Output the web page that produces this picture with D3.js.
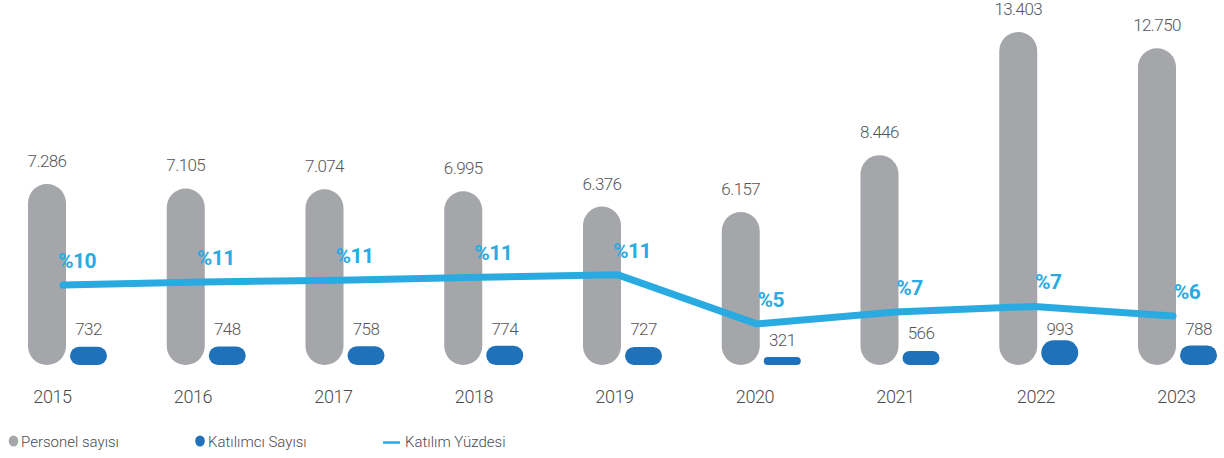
<!DOCTYPE html>
<html lang="tr">
<head>
<meta charset="utf-8">
<script src="https://cdn.jsdelivr.net/npm/d3@7"></script>
<style>
  html, body { margin: 0; padding: 0; background: #ffffff; }
  svg { display: block; font-family: Roboto, "Open Sans", sans-serif; }
</style>
</head>
<body>
<svg id="chart" width="1224" height="458"></svg>
<script>
// Yıllara göre personel sayısı, katılımcı sayısı ve katılım yüzdesi
const years = ["2015", "2016", "2017", "2018", "2019", "2020", "2021", "2022", "2023"];
const personel = [7286, 7105, 7074, 6995, 6376, 6157, 8446, 13403, 12750];
const katilimci = [732, 748, 758, 774, 727, 321, 566, 993, 788];
const katilimYuzdesi = [10.1, 10.5, 10.7, 11.1, 11.4, 5.2, 6.7, 7.4, 6.2];
const legendLabels = ["Personel sayısı", "Katılımcı Sayısı", "Katılım Yüzdesi"];

const colors = { personel: "#a5a6a9", katilimci: "#1f72ba", line: "#29abe2", text: "#555659" };
const thouFmt = d3.formatLocale({ decimal: ",", thousands: ".", grouping: [3] }).format(",d");

const svg = d3.select("#chart");
const baseY = 365, topY = 32;

// Group centres (bars) and axis label positions
const xc = d3.scalePoint().domain(years).range([47, 1157]);
const xAxisScale = d3.scalePoint().domain(years).range([52, 1176]);

const y = d3.scaleLinear().domain([0, d3.max(personel)]).range([baseY, topY]);
const yPct = d3.scaleLinear().domain([0, 42.1]).range([baseY, topY]);

const grayW = 38, blueW = 37;
const data = years.map((yr, i) => ({ yr, p: personel[i], k: katilimci[i], pct: katilimYuzdesi[i] }));

// Personel bars (pill shaped)
svg.append("g").selectAll("rect").data(data).join("rect")
  .attr("x", d => xc(d.yr) - grayW / 2)
  .attr("y", d => y(d.p))
  .attr("width", grayW)
  .attr("height", d => baseY - y(d.p))
  .attr("rx", d => Math.min(grayW / 2, (baseY - y(d.p)) / 2))
  .attr("fill", colors.personel);

// Katılımcı bars
svg.append("g").selectAll("rect").data(data).join("rect")
  .attr("x", d => xc(d.yr) + 23)
  .attr("y", d => y(d.k))
  .attr("width", blueW)
  .attr("height", d => baseY - y(d.k))
  .attr("rx", d => Math.min(blueW / 2, (baseY - y(d.k)) / 2))
  .attr("fill", colors.katilimci);

// Value labels
svg.append("g").selectAll("text").data(data).join("text")
  .attr("x", d => xc(d.yr))
  .attr("y", d => y(d.p) - 17)
  .attr("text-anchor", "middle")
  .attr("font-size", 17).attr("font-weight", 300)
  .attr("letter-spacing", "-0.6px")
  .attr("fill", colors.text)
  .text(d => thouFmt(d.p));

svg.append("g").selectAll("text").data(data).join("text")
  .attr("x", d => xc(d.yr) + 23 + blueW / 2)
  .attr("y", d => Math.max(328, y(d.k) - 18) + 6.5)
  .attr("text-anchor", "middle")
  .attr("font-size", 17).attr("font-weight", 300)
  .attr("letter-spacing", "-0.6px")
  .attr("fill", colors.text)
  .text(d => thouFmt(d.k));

// Katılım yüzdesi line
const line = d3.line()
  .x(d => xc(d.yr) + 16)
  .y(d => yPct(d.pct));

svg.append("path")
  .datum(data)
  .attr("d", line)
  .attr("fill", "none")
  .attr("stroke", colors.line)
  .attr("stroke-width", 7)
  .attr("stroke-linecap", "round")
  .attr("stroke-linejoin", "round");

svg.append("g").selectAll("text").data(data).join("text")
  .attr("x", d => xc(d.yr) + 30)
  .attr("y", d => yPct(d.pct) - 17)
  .attr("text-anchor", "middle")
  .attr("font-size", 21).attr("font-weight", 700)
  .attr("letter-spacing", "-0.5px")
  .attr("fill", colors.line)
  .text(d => "%" + Math.round(d.pct));

// Year axis
const xAxis = svg.append("g")
  .attr("transform", `translate(0,${383})`)
  .call(d3.axisBottom(xAxisScale).tickSize(0).tickPadding(7));
xAxis.select(".domain").remove();
xAxis.selectAll("text")
  .attr("font-family", "Roboto, sans-serif")
  .attr("font-size", 18).attr("font-weight", 300)
  .attr("letter-spacing", "-0.4px")
  .attr("fill", "#4a4b4e");

// Legend
const legend = svg.append("g").attr("transform", "translate(0,441)");
legend.append("ellipse").attr("cx", 13.5).attr("cy", 0).attr("rx", 4.8).attr("ry", 5.6).attr("fill", colors.personel);
legend.append("ellipse").attr("cx", 200).attr("cy", 0).attr("rx", 4.8).attr("ry", 5.6).attr("fill", colors.katilimci);
legend.append("line").attr("x1", 383).attr("x2", 400).attr("y1", 1.5).attr("y2", 1.5)
  .attr("stroke", colors.line).attr("stroke-width", 2.5);
const legendX = [21, 208, 405];
legend.selectAll("text.lg").data(legendLabels).join("text")
  .attr("class", "lg")
  .attr("x", (d, i) => legendX[i])
  .attr("y", 5.5)
  .attr("font-size", 15).attr("font-weight", 300)
  .attr("letter-spacing", "0px")
  .attr("fill", "#4a4b4e")
  .text(d => d);
</script>
</body>
</html>
